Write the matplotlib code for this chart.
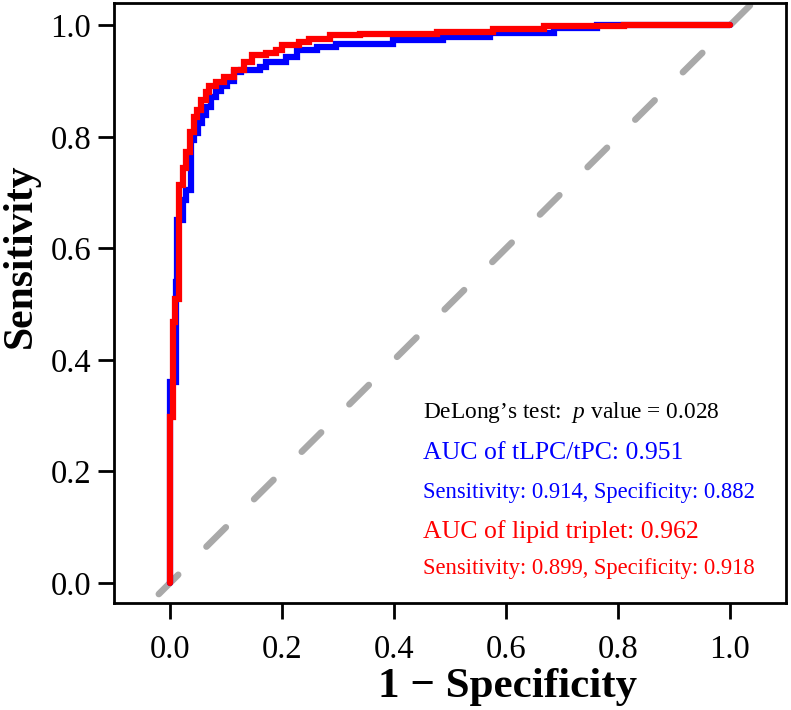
import matplotlib
matplotlib.use('Agg')
import matplotlib.pyplot as plt

plt.rcParams['font.family'] = ['Liberation Serif', 'DejaVu Serif']
plt.rcParams['mathtext.fontset'] = 'custom'
plt.rcParams['mathtext.rm'] = 'Liberation Serif'
plt.rcParams['mathtext.it'] = 'Liberation Serif:italic'

# ROC curves (1 - specificity, sensitivity), step corners
fpr_tlpc = [0.0, 0.0, 0.010, 0.013, 0.023, 0.029, 0.037, 0.043, 0.050, 0.057, 0.064,
            0.073, 0.082, 0.091, 0.102, 0.115, 0.127, 0.160, 0.172, 0.208, 0.226,
            0.262, 0.297, 0.398, 0.487, 0.572, 0.685, 0.763, 1.0]
tpr_tlpc = [0.0, 0.36, 0.54, 0.65, 0.686, 0.704, 0.794, 0.806, 0.824, 0.839, 0.853,
            0.871, 0.883, 0.892, 0.901, 0.916, 0.919, 0.925, 0.934, 0.943, 0.955,
            0.961, 0.966, 0.973, 0.979, 0.986, 0.995, 1.0, 1.0]

fpr_lipid = [0.0, 0.0, 0.005, 0.009, 0.016, 0.023, 0.029, 0.036, 0.043, 0.048, 0.055,
             0.064, 0.070, 0.082, 0.097, 0.115, 0.133, 0.147, 0.172, 0.190, 0.200,
             0.231, 0.249, 0.285, 0.340, 0.477, 0.577, 0.667, 0.810, 1.0]
tpr_lipid = [0.0, 0.297, 0.468, 0.51, 0.713, 0.744, 0.773, 0.808, 0.835, 0.848, 0.866,
             0.880, 0.892, 0.898, 0.907, 0.919, 0.934, 0.946, 0.950, 0.955, 0.964,
             0.970, 0.976, 0.982, 0.984, 0.988, 0.994, 0.998, 1.0, 1.0]

xticks = [0.0, 0.2, 0.4, 0.6, 0.8, 1.0]
yticks = [0.0, 0.2, 0.4, 0.6, 0.8, 1.0]

fig = plt.figure(figsize=(7.91, 7.10), dpi=100)
ax = fig.add_axes([114 / 791, 1 - 603 / 710, 672 / 791, 600 / 710])

# reference diagonal
ax.plot([-0.02, 1.2], [-0.02, 1.2], color='darkgray', lw=4.7,
        dashes=(4.2, 6.1), dash_capstyle='round')

ax.plot(fpr_tlpc, tpr_tlpc, drawstyle='steps-post', color='blue', lw=4.5,
        solid_capstyle='round', solid_joinstyle='miter')
ax.plot(fpr_lipid, tpr_lipid, drawstyle='steps-post', color='red', lw=4.5,
        solid_capstyle='round', solid_joinstyle='miter')

ax.set_xlim(-0.1, 1.1)
ax.set_ylim(-0.036, 1.04)
ax.set_xticks(xticks)
ax.set_yticks(yticks)
ax.set_xticklabels([f'{v:.1f}' for v in xticks])
ax.set_yticklabels([f'{v:.1f}' for v in yticks])
ax.tick_params(axis='both', length=11.5, width=2, labelsize=23.5)
ax.tick_params(axis='x', pad=11)
ax.tick_params(axis='y', pad=5)
for s in ax.spines.values():
    s.set_linewidth(2)

fig.text(507 / 791, 13 / 710, '1 \u2212 Specificity', ha='center', va='baseline',
         fontsize=31, fontweight='bold')
fig.text(21 / 791, 1 - 256 / 710, 'Sensitivity', ha='center', va='center',
         rotation=90, fontsize=30, fontweight='bold')

tx = 0.452
ax.text(tx, 0.305, 'DeLong\u2019s test:  $p$ value = 0.028', color='black',
        fontsize=16.8, va='center')
ax.text(tx, 0.233, 'AUC of tLPC/tPC: 0.951', color='blue', fontsize=18.5, va='center')
ax.text(tx, 0.163, 'Sensitivity: 0.914, Specificity: 0.882', color='blue',
        fontsize=16.3, va='center')
ax.text(tx, 0.093, 'AUC of lipid triplet: 0.962', color='red', fontsize=18.5, va='center')
ax.text(tx, 0.025, 'Sensitivity: 0.899, Specificity: 0.918', color='red',
        fontsize=16.3, va='center')

fig.savefig('out.png', dpi=100)
